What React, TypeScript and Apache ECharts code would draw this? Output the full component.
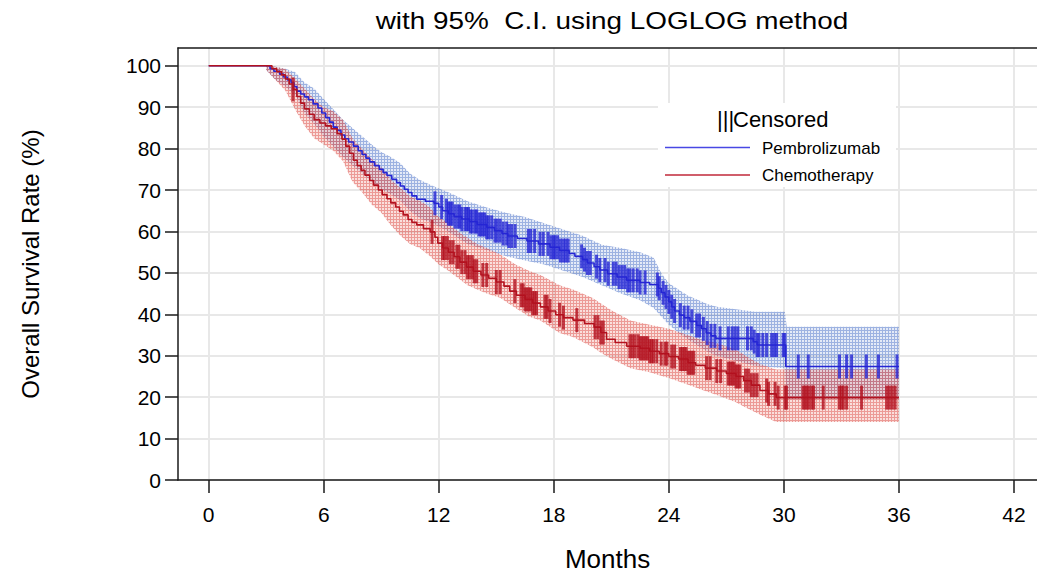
import React, { useEffect, useRef } from "react";
import * as echarts from "echarts";

// ---------- tick labels ----------
const xTicks = [0, 6, 12, 18, 24, 30, 36, 42];
const yTicks = [0, 10, 20, 30, 40, 50, 60, 70, 80, 90, 100];

// ---------- Kaplan-Meier estimates (months, %) ----------
const pembroTimes = [0, 3.2, 3.4, 3.7, 3.9, 4.1, 4.3, 4.45, 4.6, 4.8, 5.0, 5.2, 5.45, 5.7, 5.9, 6.1, 6.3, 6.5, 6.7, 6.9, 7.1, 7.3, 7.55, 7.8, 8.0, 8.2, 8.4, 8.65, 8.9, 9.1, 9.3, 9.55, 9.8, 10.0, 10.2, 10.4, 10.6, 10.85, 11.3, 11.75, 12.0, 12.2, 12.5, 12.8, 13.2, 13.6, 14.0, 14.5, 14.9, 15.3, 15.6, 16.1, 16.6, 17.2, 17.8, 18.3, 18.8, 19.1, 19.5, 19.75, 20.1, 20.4, 20.8, 21.3, 21.8, 22.5, 23.0, 23.45, 23.6, 23.8, 24.0, 24.15, 24.3, 24.55, 24.8, 25.1, 25.45, 25.7, 25.95, 26.2, 26.45, 28.4, 28.6, 30.1, 36.0];
const pembroSurv = [100, 99.3, 98.7, 98.0, 97.3, 96.6, 95.9, 95.0, 93.9, 93.2, 92.5, 91.8, 90.8, 89.8, 88.6, 87.5, 86.4, 85.2, 84.4, 83.3, 82.4, 81.6, 80.6, 79.5, 78.6, 77.7, 76.8, 75.9, 75.0, 74.2, 73.5, 72.6, 71.8, 71.0, 70.2, 69.4, 68.6, 67.8, 67.3, 66.8, 65.9, 65.0, 64.3, 63.6, 63.0, 62.4, 61.7, 61.0, 60.2, 59.5, 58.9, 58.3, 57.7, 57.0, 56.2, 55.4, 54.7, 54.0, 53.2, 52.4, 51.5, 50.7, 49.8, 49.0, 48.2, 47.7, 47.2, 46.3, 45.2, 44.2, 43.0, 41.8, 40.8, 39.8, 39.2, 38.3, 37.3, 36.5, 35.5, 34.8, 34.2, 33.4, 32.6, 27.4, 27.4];

const chemoTimes = [0, 3.3, 3.55, 3.8, 4.0, 4.2, 4.4, 4.6, 4.8, 5.0, 5.25, 5.5, 5.8, 6.1, 6.4, 6.7, 6.95, 7.15, 7.35, 7.55, 7.75, 7.95, 8.15, 8.4, 8.6, 8.85, 9.05, 9.3, 9.5, 9.75, 9.95, 10.15, 10.4, 10.6, 10.85, 11.2, 11.55, 11.8, 11.95, 12.2, 12.5, 12.8, 13.1, 13.45, 13.8, 14.2, 14.6, 15.0, 15.4, 15.7, 16.05, 16.5, 16.9, 17.3, 17.7, 18.1, 18.5, 19.0, 19.6, 20.1, 20.45, 20.75, 21.2, 21.8, 22.5, 23.0, 23.5, 24.0, 24.5, 25.0, 25.4, 25.9, 26.5, 27.0, 27.5, 27.9, 28.3, 28.75, 29.2, 29.6, 36.0];
const chemoSurv = [100, 99.3, 98.6, 97.8, 96.8, 95.6, 94.3, 92.6, 91.0, 89.6, 88.3, 87.0, 86.2, 85.5, 84.8, 83.6, 82.3, 80.6, 78.9, 77.2, 75.9, 74.8, 73.6, 72.3, 71.2, 70.0, 68.9, 67.9, 66.9, 65.9, 64.9, 64.0, 62.9, 62.2, 61.6, 60.7, 59.9, 58.6, 57.2, 56.0, 55.0, 53.9, 52.6, 51.4, 50.4, 49.5, 48.7, 47.8, 46.8, 45.6, 44.6, 43.6, 42.7, 41.8, 40.8, 39.9, 39.2, 38.6, 37.8, 36.9, 35.6, 34.0, 33.2, 32.3, 31.8, 31.1, 30.5, 29.8, 29.2, 28.3, 27.7, 27.0, 26.3, 25.7, 25.0, 24.0, 22.9, 21.6, 20.8, 19.9, 19.9];

// ---------- 95% confidence limits (LOGLOG) ----------
const pembroCiTimes = [3.0, 3.5, 4.0, 4.5, 5.0, 5.5, 6.0, 6.5, 7.0, 7.5, 8.0, 8.5, 9.0, 9.5, 10.0, 10.5, 11.0, 11.7, 12.5, 13.5, 14.5, 15.5, 16.5, 17.5, 18.5, 19.5, 20.5, 21.5, 22.5, 23.2, 23.6, 24.0, 24.5, 25.0, 25.5, 26.0, 26.5, 28.5, 30.05, 30.15, 36.0];
const pembroCiUpper = [100, 99.8, 99.3, 98.5, 96, 94.5, 92, 89.5, 87, 85, 83, 81, 79.2, 78, 76.5, 74, 72.5, 71, 69.5, 67.3, 65.8, 64.5, 63.5, 62, 60.5, 59, 56.8, 56, 55, 53.7, 50, 47.5, 46, 44.5, 43.5, 42.5, 41.8, 40.6, 40.6, 37, 37];
const pembroCiLower = [99, 96.5, 95, 93, 88.5, 86, 83, 80.5, 78, 76, 74, 72, 70.2, 69, 67.5, 65, 63.2, 62, 60, 57, 55.5, 54, 53, 52, 50.5, 49, 47, 45, 43.4, 41.5, 39.5, 37.5, 35.5, 34, 32.5, 31, 30, 27.5, 27, 19.5, 19.5];

const chemoCiTimes = [3.0, 3.5, 4.0, 4.5, 5.0, 5.5, 6.0, 6.5, 7.0, 7.5, 8.0, 8.5, 9.0, 9.5, 10.0, 10.5, 11.0, 11.5, 12.0, 12.5, 13.0, 13.5, 14.0, 14.5, 15.2, 16.0, 16.7, 17.3, 18.3, 19.0, 20.0, 20.5, 21.0, 22.0, 23.0, 23.5, 24.0, 25.3, 25.6, 26.5, 27.5, 28.0, 28.75, 29.6, 36.0];
const chemoCiUpper = [100, 99.8, 99.2, 97, 94.5, 92, 90, 89, 87, 82.5, 80, 77.5, 75.5, 72.5, 70.5, 68.5, 67.5, 66, 63.5, 62, 60, 58.5, 57, 56, 54.5, 52, 50.5, 49.5, 47, 46, 44, 42.5, 41, 38.5, 37.5, 37, 36.5, 34.5, 34, 33, 31.5, 30, 28, 26.7, 26.7];
const chemoCiLower = [99, 96.5, 94, 89.5, 85.5, 82.5, 81, 79.5, 77, 72, 69.5, 66.5, 64.5, 61.5, 59, 57, 56, 54.2, 52, 50.5, 48.8, 47, 46, 45, 44, 41.5, 39.5, 38.5, 35.5, 34.5, 32.2, 30.6, 29.3, 27, 26, 25.3, 24.6, 22.5, 22, 20.5, 18.8, 17.5, 15.8, 14, 14];

// ---------- censoring times (months) ----------
const pembroCensor = [11.8, 12.15, 12.4, 12.5, 12.6, 12.7, 12.85, 13.0, 13.1, 13.2, 13.37, 13.46, 13.55, 13.65, 13.75, 13.9, 13.98, 14.1, 14.2, 14.3, 14.4, 14.5, 14.6, 14.76, 14.93, 15.05, 15.2, 15.36, 15.54, 15.65, 15.8, 15.98, 16.67, 16.8, 17.0, 17.28, 17.45, 17.7, 17.85, 17.98, 18.06, 18.2, 18.35, 18.5, 18.62, 18.75, 19.45, 19.6, 19.75, 19.9, 20.23, 20.4, 20.67, 20.84, 21.1, 21.25, 21.4, 21.55, 21.7, 21.85, 21.97, 22.14, 22.35, 22.5, 22.76, 23.4, 23.5, 23.7, 23.85, 24.0, 24.15, 24.3, 24.6, 24.8, 25.0, 25.2, 25.45, 25.6, 25.8, 26.0, 26.2, 26.4, 26.67, 27.1, 27.3, 27.45, 27.6, 28.1, 28.3, 28.45, 28.6, 28.7, 28.9, 29.1, 29.36, 29.5, 29.62, 29.96, 30.05, 30.75, 31.27, 32.9, 33.27, 33.53, 34.3, 34.93, 35.9];
const chemoCensor = [4.4, 11.65, 12.2, 12.3, 12.45, 12.6, 12.75, 12.94, 13.05, 13.2, 13.37, 13.5, 13.6, 13.75, 13.85, 13.98, 14.3, 14.5, 15.0, 15.2, 15.97, 16.3, 16.4, 16.5, 16.6, 16.7, 16.8, 16.9, 17.0, 17.1, 17.54, 17.65, 17.8, 18.3, 18.5, 19.2, 20.15, 20.3, 20.45, 20.58, 21.97, 22.1, 22.23, 22.4, 22.5, 22.6, 22.7, 22.8, 22.9, 23.0, 23.1, 23.2, 23.37, 23.6, 23.8, 23.9, 24.15, 24.3, 24.6, 24.7, 24.8, 24.9, 25.0, 25.1, 25.2, 25.3, 25.97, 26.15, 26.5, 26.7, 27.1, 27.2, 27.3, 27.4, 27.5, 27.6, 27.7, 28.0, 28.15, 28.3, 28.45, 28.6, 29.1, 29.2, 29.54, 29.7, 30.06, 30.14, 31.0, 31.1, 31.2, 31.3, 31.45, 31.55, 32.05, 32.9, 33.0, 33.1, 33.27, 34.05, 35.36, 35.5, 35.65, 35.8];

const titleText = "with 95%  C.I. using LOGLOG method";
const legendNames = ["Pembrolizumab", "Chemotherapy"];

const FONT = "'Liberation Sans', Arial, Helvetica, sans-serif";
const BLUE = "#2626d4";
const RED = "#b3121f";

function pair(t: number[], v: number[]) {
  return t.map((x, i) => [x, v[i]]);
}
function kmAt(times: number[], surv: number[], t: number) {
  let v = surv[0];
  for (let i = 0; i < times.length; i++) {
    if (times[i] <= t) v = surv[i];
    else break;
  }
  return v;
}

// small cross-hatch tile used to fill the confidence bands
function hatch(bg: string, line: string, fallback: string): any {
  try {
    const cv = document.createElement("canvas");
    cv.width = 3;
    cv.height = 3;
    const ctx = cv.getContext("2d");
    if (!ctx) return fallback;
    ctx.fillStyle = bg;
    ctx.fillRect(0, 0, 3, 3);
    ctx.fillStyle = line;
    ctx.fillRect(0, 0, 3, 1);
    ctx.fillRect(0, 1, 1, 2);
    return { image: cv.toDataURL(), repeat: "repeat" };
  } catch (e) {
    return fallback;
  }
}

// confidence band drawn as one polygon through the chart's scales
function bandSeries(name: string, times: number[], upper: number[], lower: number[], fill: any) {
  return {
    type: "custom",
    name,
    silent: true,
    clip: true,
    z: 2,
    data: times.map((t, i) => [t, lower[i], upper[i]]),
    encode: { x: 0, y: [1, 2] },
    renderItem: (params: any, api: any) => {
      if (params.dataIndex !== 0) return null;
      const n = times.length;
      const pts: number[][] = [];
      for (let i = 0; i < n; i++) pts.push(api.coord([times[i], upper[i]]));
      for (let i = n - 1; i >= 0; i--) pts.push(api.coord([times[i], lower[i]]));
      return { type: "polygon", shape: { points: pts }, style: { fill, stroke: "none" } };
    },
  };
}

export default function App() {
  const ref = useRef<HTMLDivElement>(null);

  useEffect(() => {
    if (!ref.current) return;
    const chart = echarts.init(ref.current, null, { renderer: "svg" });

    // measure title to stretch it horizontally like the original
    let titleScale = 1.2;
    try {
      const c = document.createElement("canvas").getContext("2d");
      if (c) {
        c.font = "23px 'Liberation Sans'";
        const w = c.measureText(titleText).width;
        if (w > 0) titleScale = 473 / w;
      }
    } catch (e) {}

    const blueFill = hatch("rgba(120,150,215,0.2)", "rgba(70,110,200,0.45)", "rgba(70,110,200,0.3)");
    const redFill = hatch("rgba(235,120,110,0.24)", "rgba(220,70,65,0.45)", "rgba(228,85,75,0.33)");

    const axisLineStyle = { color: "#1a1a1a", width: 1.5 };
    const legendText = (text: string, x: number, y: number, size: number) => ({
      type: "text",
      x,
      y,
      z: 20,
      style: {
        text,
        fontSize: size,
        fontFamily: FONT,
        fill: "#000",
        textVerticalAlign: "middle",
        verticalAlign: "middle",
      },
    });

    const option: any = {
      animation: false,
      textStyle: { fontFamily: FONT },
      grid: { left: 178, right: 0, top: 48, bottom: 92, containLabel: false },
      xAxis: [
        {
          type: "value",
          min: -1.6,
          max: 43.2,
          position: "bottom",
          axisLine: { show: true, onZero: false, lineStyle: axisLineStyle },
          axisTick: { show: true, customValues: xTicks, length: 13, lineStyle: axisLineStyle },
          axisLabel: { customValues: xTicks, fontSize: 21, color: "#000", margin: 24, fontFamily: FONT },
          splitLine: { show: true, lineStyle: { color: "#e8e8e8", width: 2 } },
          name: "Months",
          nameLocation: "middle",
          nameGap: 66,
          nameTextStyle: { fontSize: 26, color: "#000", fontFamily: FONT },
        },
        {
          type: "value",
          min: -1.6,
          max: 43.2,
          position: "top",
          axisLine: { show: true, onZero: false, lineStyle: axisLineStyle },
          axisTick: { show: false },
          axisLabel: { show: false },
          splitLine: { show: false },
        },
      ],
      yAxis: {
        type: "value",
        min: 0,
        max: 104.3,
        axisLine: { show: true, onZero: false, lineStyle: axisLineStyle },
        axisTick: { show: true, customValues: yTicks, length: 13, lineStyle: axisLineStyle },
        axisLabel: { customValues: yTicks, fontSize: 21, color: "#000", margin: 17, fontFamily: FONT },
        splitLine: { show: true, lineStyle: { color: "#e8e8e8", width: 2 } },
        name: "Overall Survival Rate (%)",
        nameLocation: "middle",
        nameGap: 136,
        nameRotate: 90,
        nameTextStyle: { fontSize: 24, color: "#000", fontFamily: FONT },
      },
      graphic: [
        {
          type: "text",
          x: 612,
          y: 21,
          scaleX: titleScale,
          z: 20,
          style: {
            text: titleText,
            fontSize: 23,
            fontFamily: FONT,
            fill: "#000",
            textAlign: "center",
            textVerticalAlign: "middle",
            align: "center",
            verticalAlign: "middle",
          },
        },
        {
          type: "rect",
          z: 19,
          shape: { x: 658, y: 103, width: 238, height: 84 },
          style: { fill: "#fff", stroke: "none" },
        },
        legendText("|||", 717, 119, 22),
        legendText("Censored", 733, 119, 22),
        {
          type: "line",
          z: 20,
          shape: { x1: 665, y1: 147.5, x2: 750, y2: 147.5 },
          style: { stroke: "#4848e4", lineWidth: 1.5 },
        },
        legendText(legendNames[0], 762, 148, 17),
        {
          type: "line",
          z: 20,
          shape: { x1: 665, y1: 175, x2: 750, y2: 175 },
          style: { stroke: "#c0283a", lineWidth: 1.5 },
        },
        legendText(legendNames[1], 762, 175.5, 17),
      ],
      series: [
        bandSeries("pembroCI", pembroCiTimes, pembroCiUpper, pembroCiLower, blueFill),
        bandSeries("chemoCI", chemoCiTimes, chemoCiUpper, chemoCiLower, redFill),
        {
          type: "line",
          name: legendNames[0],
          data: pair(pembroTimes, pembroSurv),
          step: "end",
          symbol: "none",
          lineStyle: { color: BLUE, width: 1.6 },
          z: 3,
        },
        {
          type: "line",
          name: legendNames[1],
          data: pair(chemoTimes, chemoSurv),
          step: "end",
          symbol: "none",
          lineStyle: { color: RED, width: 1.6 },
          z: 3,
        },
        {
          type: "scatter",
          name: "pembroCensored",
          data: pembroCensor.map((t) => [t, kmAt(pembroTimes, pembroSurv, t)]),
          symbol: "rect",
          symbolSize: [3, 24],
          itemStyle: { color: BLUE },
          silent: true,
          z: 4,
        },
        {
          type: "scatter",
          name: "chemoCensored",
          data: chemoCensor.map((t) => [t, kmAt(chemoTimes, chemoSurv, t)]),
          symbol: "rect",
          symbolSize: [3, 24],
          itemStyle: { color: RED },
          silent: true,
          z: 4,
        },
      ],
    };

    chart.setOption(option);
    return () => chart.dispose();
  }, []);

  return (
    <div
      ref={ref}
      style={{ position: "absolute", left: 0, top: 0, width: 1037, height: 577, background: "#fff" }}
    />
  );
}
